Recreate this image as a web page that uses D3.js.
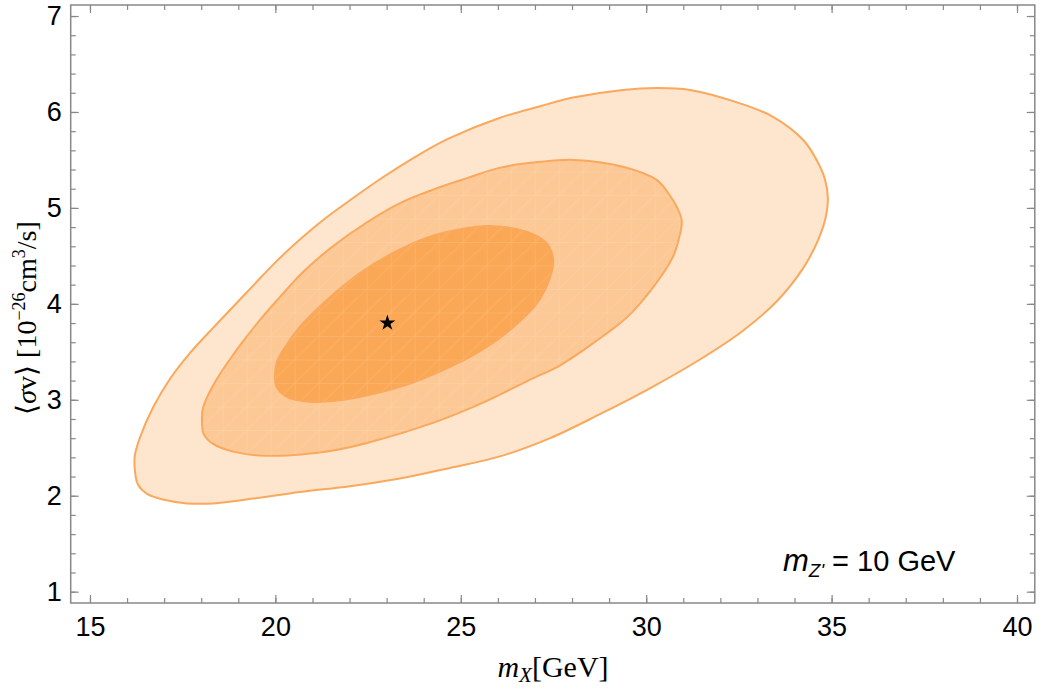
<!DOCTYPE html>
<html>
<head>
<meta charset="utf-8">
<script src="https://cdn.jsdelivr.net/npm/d3@7"></script>
<style>
  body { margin: 0; background: #fff; }
  svg { display: block; }
  .tick text { font-family: "Liberation Sans", Arial, sans-serif; font-size: 27px; fill: #000; }
  .tick line { stroke: #888; stroke-width: 1.2; }
  .frame { fill: none; stroke: #888; stroke-width: 1.5; }
  .serif { font-family: "Liberation Serif", "Times New Roman", serif; }
</style>
</head>
<body>
<div class="content"></div>
<script>
// contour regions, [m_X (GeV), <sigma v> (1e-26 cm^3/s)]
var outerRegion = [
  [16.21, 2.27], [16.29, 2.12], [16.54, 2.02], [16.97, 1.96], [17.62, 1.92], [18.32, 1.92],
  [19.40, 1.97], [20.66, 2.04], [22.01, 2.10], [23.36, 2.18], [24.71, 2.29], [26.06, 2.41],
  [27.41, 2.60], [28.75, 2.85], [30.10, 3.12], [31.45, 3.42], [32.61, 3.72], [33.53, 4.03],
  [34.23, 4.37], [34.63, 4.66], [34.84, 4.90], [34.90, 5.10], [34.82, 5.30], [34.61, 5.49],
  [34.23, 5.71], [33.42, 5.95], [32.53, 6.09], [31.18, 6.23], [30.29, 6.25], [29.37, 6.23],
  [28.03, 6.15], [27.14, 6.06], [26.06, 5.94], [24.71, 5.73], [23.98, 5.58], [22.90, 5.32],
  [22.01, 5.08], [21.34, 4.89], [20.66, 4.67], [20.02, 4.44], [19.40, 4.19], [18.86, 3.97],
  [18.32, 3.75], [17.70, 3.49], [17.16, 3.22], [16.70, 2.92], [16.35, 2.61], [16.21, 2.42]
];
var middleRegion = [
  [18.02, 2.79], [18.07, 2.64], [18.32, 2.54], [18.86, 2.46], [19.58, 2.42], [20.31, 2.42],
  [21.39, 2.46], [22.47, 2.55], [24.25, 2.76], [25.60, 2.97], [26.87, 3.21], [27.68, 3.36],
  [28.57, 3.59], [29.48, 3.86], [30.18, 4.17], [30.72, 4.49], [30.88, 4.68], [30.96, 4.86],
  [30.84, 5.00], [30.62, 5.14], [30.29, 5.29], [29.37, 5.43], [28.03, 5.50], [27.14, 5.48],
  [26.06, 5.42], [25.17, 5.31], [24.25, 5.19], [23.36, 5.05], [22.47, 4.85], [21.55, 4.60],
  [20.74, 4.33], [20.12, 4.07], [19.58, 3.83], [18.86, 3.47], [18.32, 3.15], [18.05, 2.92]
];
var innerRegion = [
  [19.99, 3.24], [20.04, 3.13], [20.31, 3.03], [20.93, 2.98], [21.82, 3.00], [22.74, 3.07],
  [23.63, 3.17], [24.52, 3.31], [25.44, 3.49], [26.33, 3.73], [27.06, 4.01], [27.41, 4.28],
  [27.49, 4.46], [27.32, 4.63], [26.79, 4.75], [25.87, 4.81], [25.17, 4.79], [24.09, 4.69],
  [23.17, 4.53], [22.28, 4.32], [21.39, 4.04], [20.66, 3.76], [20.21, 3.52], [20.04, 3.39]
];
var bestFit = [23.02, 3.80];

var xTicks = [15, 20, 25, 30, 35, 40];
var yTicks = [1, 2, 3, 4, 5, 6, 7];
var xMinor = d3.range(15, 41, 1);
var yMinor = d3.range(1, 7.01, 0.2);

var regionColors = ["#fee5cd", "#fcc895", "#fba856"];
var edgeColor = "#f9a85c";

var fullWidth = 1042, fullHeight = 690;
var margin = {top: 5, left: 70.7, right: 7.2, bottom: 87};
var width = fullWidth - margin.left - margin.right;
var height = fullHeight - margin.top - margin.bottom;

var root = d3.select("div.content").append("svg")
    .attr("width", fullWidth)
    .attr("height", fullHeight);

// faint mesh seen inside the inner two regions
var pat = root.append("defs").append("pattern")
    .attr("id", "mesh")
    .attr("patternUnits", "userSpaceOnUse")
    .attr("x", 8).attr("y", 2)
    .attr("width", 24).attr("height", 23.5);
pat.append("path")
    .attr("d", "M0,0V23.5M0,0H24")
    .style("stroke", "#fff")
    .style("stroke-opacity", 0.2)
    .style("stroke-width", 1);
pat.append("path")
    .attr("d", "M0,23.5L24,0")
    .style("stroke", "#fff")
    .style("stroke-opacity", 0.1)
    .style("stroke-width", 1);

var svg = root.append("g")
    .attr("transform", "translate(" + margin.left + "," + margin.top + ")");

var x = d3.scaleLinear().domain([14.48, 40.48]).range([0, width]);
var y = d3.scaleLinear().domain([0.882, 7.115]).range([height, 0]);

var outline = d3.line()
    .x(function(d){ return x(d[0]); })
    .y(function(d){ return y(d[1]); })
    .curve(d3.curveCatmullRomClosed.alpha(0.5));

//regions, outer first
[outerRegion, middleRegion, innerRegion].forEach(function(r, i){
  svg.append("path")
      .datum(r)
      .attr("d", outline)
      .style("fill", regionColors[i])
      .style("stroke", edgeColor)
      .style("stroke-width", 2)
      .style("stroke-linejoin", "round");
  if (i > 0) {
    svg.append("path")
        .datum(r)
        .attr("d", outline)
        .style("fill", "url(#mesh)")
        .style("stroke", "none");
  }
});

//best fit point
svg.append("path")
    .attr("d", d3.symbol().type(d3.symbolStar).size(80))
    .attr("transform", "translate(" + x(bestFit[0]) + "," + y(bestFit[1]) + ")")
    .style("fill", "#000");

//minor ticks, all four sides
function noLabel(){ return ""; }
svg.append("g").attr("transform", "translate(0," + height + ")")
    .call(d3.axisBottom(x).tickValues(xMinor).tickSize(-5).tickFormat(noLabel));
svg.append("g")
    .call(d3.axisTop(x).tickValues(xMinor).tickSize(-5).tickFormat(noLabel));
svg.append("g")
    .call(d3.axisLeft(y).tickValues(yMinor).tickSize(-5).tickFormat(noLabel));
svg.append("g").attr("transform", "translate(" + width + ",0)")
    .call(d3.axisRight(y).tickValues(yMinor).tickSize(-5).tickFormat(noLabel));

//major ticks
svg.append("g").attr("transform", "translate(0," + height + ")")
    .call(d3.axisBottom(x).tickValues(xTicks).tickSize(-8).tickPadding(14).tickFormat(d3.format("d")));
svg.append("g")
    .call(d3.axisTop(x).tickValues(xTicks).tickSize(-8).tickFormat(noLabel));
svg.append("g")
    .call(d3.axisLeft(y).tickValues(yTicks).tickSize(-8).tickPadding(9).tickFormat(d3.format("d")));
svg.append("g").attr("transform", "translate(" + width + ",0)")
    .call(d3.axisRight(y).tickValues(yTicks).tickSize(-8).tickFormat(noLabel));

svg.selectAll(".domain").remove();

svg.append("rect")
    .attr("class", "frame")
    .attr("width", width)
    .attr("height", height);

//x-label
var xl = svg.append("text")
    .attr("class", "serif")
    .attr("x", 553 - margin.left)
    .attr("y", 677 - margin.top)
    .style("font-size", "30px")
    .style("text-anchor", "middle");
xl.append("tspan").style("font-style", "italic").text("m");
xl.append("tspan").style("font-style", "italic").style("font-size", "21px").attr("dy", 5).text("X");
xl.append("tspan").attr("dy", -5).text("[GeV]");

//y-label
var yl = svg.append("text")
    .attr("class", "serif")
    .attr("transform", "translate(" + (36 - margin.left) + "," + (318 - margin.top) + ") rotate(-90)")
    .style("font-size", "28px")
    .style("text-anchor", "middle");
yl.append("tspan").text("\u27E8");
yl.append("tspan").style("font-style", "italic").text("\u03C3");
yl.append("tspan").text("v\u27E9 [10");
yl.append("tspan").style("font-size", "18px").attr("dy", -11).text("\u221226");
yl.append("tspan").attr("dy", 11).text("cm");
yl.append("tspan").style("font-size", "18px").attr("dy", -11).text("3");
yl.append("tspan").attr("dy", 11).text("/s]");

//annotation
var note = svg.append("text")
    .attr("x", 783 - margin.left)
    .attr("y", 571 - margin.top)
    .style("font-family", "\"Liberation Sans\", Arial, sans-serif")
    .style("font-size", "29px");
note.append("tspan").style("font-style", "italic").style("font-size", "31px").text("m");
note.append("tspan").style("font-style", "italic").style("font-size", "19px").attr("dy", 6).text("Z'");
note.append("tspan").attr("dy", -6).text(" = 10 GeV");
</script>
</body>
</html>
